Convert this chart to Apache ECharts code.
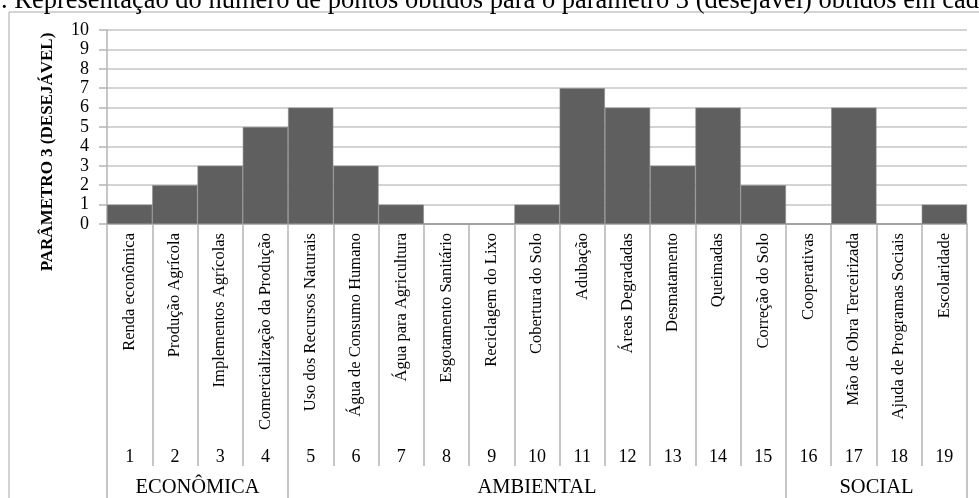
<!DOCTYPE html>
<html>
<head>
<meta charset="utf-8">
<script src="https://cdn.jsdelivr.net/npm/echarts@6/dist/echarts.min.js"></script>
<style>
  html, body { margin: 0; padding: 0; background: #fff; }
  #chart { width: 979px; height: 498px; }
</style>
</head>
<body>
<div id="chart"></div>
<script>
// Indicators, in order along the horizontal axis
const categories = [
  'Renda econômica', 'Produção Agrícola', 'Implementos Agrícolas', 'Comercialização da Produção',
  'Uso dos Recursos Naturais', 'Água de Consumo Humano', 'Água para Agricultura', 'Esgotamento Sanitário',
  'Reciclagem do Lixo', 'Cobertura do Solo', 'Adubação', 'Áreas Degradadas', 'Desmatamento',
  'Queimadas', 'Correção do Solo', 'Cooperativas', 'Mão de Obra Terceirizada',
  'Ajuda de Programas Sociais', 'Escolaridade'
];
const indicatorNumbers = ['1','2','3','4','5','6','7','8','9','10','11','12','13','14','15','16','17','18','19'];
// Points obtained for parameter 3 (desirable)
const points = [1, 2, 3, 5, 6, 3, 1, 0, 0, 1, 7, 6, 3, 6, 2, 0, 6, 0, 1];
// Dimension groups and how many indicators each one holds
const groupNames = ['ECONÔMICA', 'AMBIENTAL', 'SOCIAL'];
const groupSizes = [4, 11, 4];
// Vertical scale
const yMin = 0, yMax = 10, yStep = 1;

const captionText = '. Representação do número de pontos obtidos para o parâmetro 3 (desejável) obtidos em cada indicador';

// group boundaries and centres on a 0..N scale matching the category bands
const groupBounds = [0];
groupSizes.forEach(function (s) { groupBounds.push(groupBounds[groupBounds.length - 1] + s); });
const groupCenters = groupSizes.map(function (s, i) { return groupBounds[i] + s / 2; });

const serif = '"Liberation Serif", "Times New Roman", serif';
const gridGrey = '#c6c6c6';
const lineGrey = '#b4b4b4';

const chart = echarts.init(document.getElementById('chart'), null, { renderer: 'canvas' });

chart.setOption({
  animation: false,
  backgroundColor: '#ffffff',
  graphic: [
    {
      type: 'rect', z: 0, silent: true,
      shape: { x: 9, y: 12, width: 1100, height: 700 },
      style: { fill: 'none', stroke: '#a8a8a8', lineWidth: 1 }
    },
    {
      type: 'text', z: 1, silent: true,
      x: 1, y: 0.6,
      style: {
        text: captionText,
        font: '26.5px ' + serif,
        fill: '#000',
        verticalAlign: 'middle',
        align: 'left'
      }
    }
  ],
  grid: { left: 107, right: 12, top: 30, bottom: 274, containLabel: false },
  yAxis: {
    type: 'value',
    min: yMin, max: yMax, interval: yStep,
    name: 'PARÂMETRO 3 (DESEJÁVEL)',
    nameLocation: 'middle',
    nameRotate: 90,
    nameGap: 51,
    nameTextStyle: {
      fontFamily: serif, fontWeight: 'bold', fontSize: 17, color: '#000',
      padding: [0, 50, 0, 0]
    },
    axisLine: { show: true, lineStyle: { color: lineGrey, width: 1.5 } },
    axisTick: { show: true, length: 8, lineStyle: { color: lineGrey, width: 1.5 } },
    axisLabel: { fontFamily: serif, fontSize: 18, color: '#000', margin: 18 },
    splitLine: { show: true, lineStyle: { color: gridGrey, width: 1.5 } }
  },
  xAxis: [
    {
      // indicator names, rotated, with separators between the bands
      type: 'category',
      data: categories,
      boundaryGap: true,
      position: 'bottom',
      axisLine: { show: true, onZero: true, lineStyle: { color: lineGrey, width: 1.5 } },
      axisTick: { show: true, interval: 0, length: 242, lineStyle: { color: lineGrey, width: 1.5 } },
      axisLabel: {
        interval: 0, rotate: 90, margin: 9,
        fontFamily: serif, fontSize: 16.5, color: '#000'
      },
      splitLine: { show: false }
    },
    {
      // indicator numbers
      type: 'category',
      data: indicatorNumbers,
      boundaryGap: true,
      position: 'bottom',
      offset: 223,
      axisLine: { show: false },
      axisTick: { show: false },
      axisLabel: { interval: 0, margin: 1, fontFamily: serif, fontSize: 18, color: '#000' },
      splitLine: { show: false }
    },
    {
      // dimension groups spanning several indicators
      type: 'value',
      min: 0, max: categories.length,
      position: 'bottom',
      axisLine: { show: false, onZero: false },
      axisTick: {
        show: true, length: 290, customValues: groupBounds,
        lineStyle: { color: lineGrey, width: 1.5 }
      },
      axisLabel: {
        customValues: groupCenters, margin: 253,
        fontFamily: serif, fontSize: 20.5, color: '#000',
        formatter: function (v) {
          const i = groupCenters.indexOf(v);
          return i >= 0 ? groupNames[i] : '';
        }
      },
      splitLine: { show: false }
    }
  ],
  series: [
    {
      type: 'bar',
      xAxisIndex: 0,
      data: points,
      barCategoryGap: '0%',
      itemStyle: { color: '#5f5f5f', borderColor: '#8a8a8a', borderWidth: 0.6 },
      z: 3
    }
  ]
});
</script>
</body>
</html>
